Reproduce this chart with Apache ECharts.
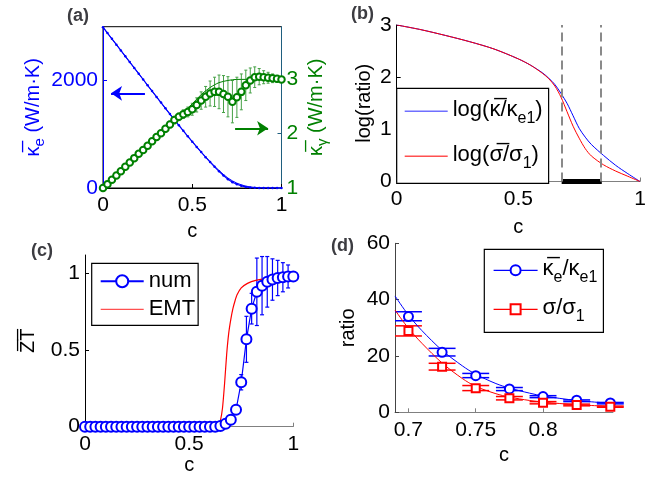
<!doctype html>
<html>
<head>
<meta charset="utf-8">
<title>chart</title>
<script src="https://cdn.jsdelivr.net/npm/echarts@6/dist/echarts.min.js"></script>
<style>html,body{margin:0;padding:0;background:#fff}#main{width:662px;height:485px}</style>
</head>
<body>
<div id="main"></div>
<script>
// (a) electronic and phononic conductivity
var cA = [0,0.025,0.05,0.075,0.1,0.125,0.15,0.175,0.2,0.225,0.25,0.275,0.3,0.325,0.35,0.375,0.4,0.425,0.45,0.475,0.5,0.525,0.55,0.575,0.6,0.625,0.65,0.675,0.7,0.725,0.75,0.775,0.8,0.825,0.85,0.875,0.9,0.925,0.95,0.975,1]
var keNum = [2990,2882,2774,2666,2558,2450,2342,2234,2126,2018,1910,1802,1694,1588,1482,1376,1270,1166,1063,962,862,764,668,574,482,394,310,232,162,108,70,40,20,8,3,1,0,0,0,0,0]
var cLineA = [0,0.1,0.2,0.3,0.4,0.5,0.55,0.6,0.65,0.7,0.75,0.8,0.85,0.9,0.95,1]
var keEmt = [2990,2558,2126,1694,1270,862,668,490,325,185,90,35,10,2,0,0]
var kgEmt = [1,1.31,1.62,1.93,2.24,2.55,2.72,2.85,2.94,2.98,3.0,3.0,3.0,3.0,3.0,3.0]
var kgNum = [1.00,1.07,1.15,1.23,1.31,1.39,1.47,1.55,1.63,1.70,1.78,1.86,1.94,2.01,2.09,2.17,2.25,2.31,2.36,2.40,2.45,2.53,2.61,2.68,2.74,2.77,2.77,2.73,2.68,2.59,2.67,2.77,2.89,2.98,3.04,3.05,3.04,3.03,3.02,3.01,3.00]
var kgErr = [0.01,0.01,0.02,0.02,0.02,0.03,0.03,0.03,0.04,0.04,0.04,0.05,0.05,0.05,0.06,0.06,0.07,0.07,0.08,0.09,0.11,0.13,0.16,0.19,0.23,0.27,0.31,0.34,0.37,0.39,0.37,0.33,0.28,0.23,0.19,0.15,0.12,0.10,0.08,0.06,0.04]
var arrowKe = [[0.235,1761],[0.045,1761]]
var arrowKg = [[0.74,2.10],[0.925,2.10]]

// (b) log ratios
var cB = [0,0.1,0.2,0.3,0.4,0.5,0.55,0.6,0.625,0.65,0.675,0.7,0.725,0.75,0.775,0.8,0.85,0.9,0.95,1]
var logKappa = [3,2.91,2.80,2.68,2.54,2.35,2.23,2.08,1.98,1.86,1.69,1.50,1.26,1.02,0.85,0.71,0.50,0.31,0.15,0]
var logSigma = [3,2.91,2.80,2.68,2.54,2.35,2.23,2.07,1.97,1.83,1.62,1.34,1.06,0.83,0.63,0.49,0.32,0.20,0.10,0]
var cutC = [0.678,0.843]

// (c) ZT
var ztNum = [0,0,0,0,0,0,0,0,0,0,0,0,0,0,0,0,0,0,0,0,0,0,0,0,0,0,0.005,0.02,0.045,0.11,0.29,0.57,0.77,0.88,0.92,0.945,0.96,0.97,0.975,0.98,0.98]
var ztErr = [0,0,0,0,0,0,0,0,0,0,0,0,0,0,0,0,0,0,0,0,0,0,0,0,0,0,0,0,0.01,0.02,0.05,0.15,0.1,0.22,0.19,0.165,0.135,0.115,0.095,0.075,0.02]
var cEmtC = [0,0.1,0.2,0.3,0.4,0.5,0.6,0.63,0.64,0.65,0.66,0.67,0.68,0.69,0.7,0.71,0.72,0.73,0.75,0.78,0.82,0.88,0.94,1]
var ztEmt = [0,0,0,0,0,0,0,0.003,0.012,0.04,0.12,0.28,0.47,0.61,0.70,0.77,0.82,0.86,0.905,0.935,0.955,0.968,0.975,0.98]

// (d) ratios near transition
var cD = [0.7,0.725,0.75,0.775,0.8,0.825,0.85]
var kRatio = [34.0,21.3,13.0,8.3,5.6,4.3,3.3]
var kLo = [32.5,20.0,12.3,7.7,5.2,3.8,3.0]
var kHi = [35.7,22.7,13.8,8.8,5.9,4.4,3.5]
var sRatio = [28.9,16.2,8.5,5.0,3.4,2.6,2.0]
var sLo = [27.1,15.0,7.7,4.4,3.0,2.3,1.8]
var sHi = [30.7,17.4,9.5,5.6,3.8,2.9,2.2]
var cFitD = [0.69,0.7,0.71,0.725,0.74,0.75,0.765,0.775,0.79,0.8,0.825,0.85]
var kFit = [41.3,34.5,29.0,22.0,16.5,13.5,10.2,8.6,6.8,5.8,4.2,3.2]
var sFit = [36.3,29.8,24.5,17.5,12.0,9.2,6.6,5.4,4.2,3.6,2.7,2.1]
var ticksD = [0.7,0.75,0.8]

var FF = 'Liberation Sans, Arial, sans-serif'
var BLUE = '#0000ff', RED = '#ff0000', GREEN = '#008000'

function zip(x, y) { return x.map(function (v, i) { return [v, y[i]] }) }
function errPts(x, y, e) {
	var out = []
	for (var i = 0; i < x.length; i++) if (e[i] > 0) out.push([x[i], y[i] - e[i], y[i] + e[i]])
	return out
}
function errLoHi(x, lo, hi) { return x.map(function (v, i) { return [v, lo[i], hi[i]] }) }
function rich(color, big, small, drop) {
	return {
		m: {fontSize: big, fontFamily: FF, color: color, verticalAlign: 'top', lineHeight: big + 2},
		s: {fontSize: small, fontFamily: FF, color: color, verticalAlign: 'top', lineHeight: small, padding: [drop, 0, 0, 0]}
	}
}
// error bar drawn through the axes; cap is px or data width
function errRender(capPx, capData, lw) {
	return function (params, api) {
		var x = api.value(0)
		var p1 = api.coord([x, api.value(1)]), p2 = api.coord([x, api.value(2)])
		var h = capData ? api.coord([x + capData, api.value(1)])[0] - p1[0] : capPx
		var st = {stroke: api.visual('color'), lineWidth: lw}
		return {type: 'group', children: [
			{type: 'line', shape: {x1: p1[0], y1: p1[1], x2: p2[0], y2: p2[1]}, style: st},
			{type: 'line', shape: {x1: p1[0] - h, y1: p1[1], x2: p1[0] + h, y2: p1[1]}, style: st},
			{type: 'line', shape: {x1: p2[0] - h, y1: p2[1], x2: p2[0] + h, y2: p2[1]}, style: st}
		]}
	}
}
function xAx(grid, min, max, interval, color, name, gap) {
	return {
		type: 'value', gridIndex: grid, min: min, max: max, interval: interval,
		name: name, nameLocation: 'middle', nameGap: gap,
		nameTextStyle: {fontSize: 20, fontFamily: FF, color: '#000'},
		axisLine: {lineStyle: {color: color, width: 1}},
		axisTick: {inside: true, length: 4, lineStyle: {color: color}},
		axisLabel: {fontSize: 21, fontFamily: FF, color: '#000', margin: 7},
		splitLine: {show: false}
	}
}
function yAx(grid, min, max, interval, color, labelColor) {
	return {
		type: 'value', gridIndex: grid, min: min, max: max, interval: interval,
		nameLocation: 'middle',
		axisLine: {show: true, lineStyle: {color: color, width: 1}},
		axisTick: {show: true, inside: true, length: 4, lineStyle: {color: color}},
		axisLabel: {fontSize: 21, fontFamily: FF, color: labelColor, margin: 5, showMaxLabel: false,
			formatter: function (v) { return String(v) }},
		splitLine: {show: false}
	}
}

var xs = [
	xAx(0, 0, 1, 0.5, '#000', 'c', 33),
	xAx(1, 0, 1, 0.5, '#808080', 'c', 36),
	xAx(2, 0, 1, 0.5, '#808080', 'c', 29),
	xAx(3, 0.69, 0.852, null, '#808080', 'c', 33)
]
xs[3].axisLabel.customValues = ticksD
xs[3].axisTick.customValues = ticksD

var yL = yAx(0, 0, 3000, 2000, BLUE, BLUE)
yL.name = '{m|κ\u0305}{s|e}{m| (W/m·K)}'
yL.nameGap = 56
yL.nameTextStyle = {rich: rich(BLUE, 20, 15, 9)}
var yR = yAx(0, 1, 3.97, 1, '#1f5f7f', GREEN)
yR.position = 'right'
yR.name = '{m|κ\u0305}{s|γ}{m| (W/m·K)}'
yR.nameGap = 25
yR.nameTextStyle = {rich: rich(GREEN, 20, 15, 9)}
var yB = yAx(1, 0, 3, 1, '#000', '#000')
yB.axisLabel.showMaxLabel = true
yB.name = 'log(ratio)'
yB.nameGap = 22
yB.nameTextStyle = {fontSize: 20, fontFamily: FF, color: '#000'}
var yC = yAx(2, 0, 1.12, 0.5, '#000', '#000')
yC.name = 'Z\u0305T\u0305'
yC.nameGap = 47
yC.nameTextStyle = {fontSize: 20, fontFamily: FF, color: '#000'}
var yD = yAx(3, 0, 60, 20, '#444', '#000')
yD.axisLabel.showMaxLabel = true
yD.name = 'ratio'
yD.nameGap = 37
yD.nameTextStyle = {fontSize: 20, fontFamily: FF, color: '#000'}

var lineIconPath = 'path://M0,0L0.01,0L0.01,0.01Z M0,7L43,7L43,8.3L0,8.3Z M0,15L0.01,15L0.01,14.99Z'

var option = {
	animation: false,
	backgroundColor: '#fff',
	title: [
		{text: '(a)', left: 67, top: 7, padding: 0, textStyle: {fontSize: 18, fontWeight: 'bold', fontFamily: FF}},
		{text: '(b)', left: 351, top: 5, padding: 0, textStyle: {fontSize: 18, fontWeight: 'bold', fontFamily: FF}},
		{text: '(c)', left: 31, top: 242, padding: 0, textStyle: {fontSize: 18, fontWeight: 'bold', fontFamily: FF}},
		{text: '(d)', left: 331, top: 237, padding: 0, textStyle: {fontSize: 18, fontWeight: 'bold', fontFamily: FF}}
	],
	grid: [
		{left: 103, top: 26.7, width: 178.5, height: 161.3, show: true, borderColor: '#000', borderWidth: 1},
		{left: 396.7, top: 25, width: 243.3, height: 156.5},
		{left: 85, top: 255, width: 208.3, height: 171.7},
		{left: 395, top: 243.3, width: 218, height: 169}
	],
	xAxis: xs,
	yAxis: [yL, yR, yB, yC, yD],
	legend: [
		{
			orient: 'vertical', left: 396.7, top: 88.3, padding: [11, 6, 12, 8], itemGap: 18,
			itemWidth: 43, itemHeight: 1.5, icon: 'rect', selectedMode: false,
			borderColor: '#000', borderWidth: 1.2, backgroundColor: '#fff',
			data: ['kb', 'sb'],
			formatter: function (n) { return n === 'kb' ? '{m|log(κ\u0305/κ}{s|e1}{m|)}' : '{m|log(σ\u0305/σ}{s|1}{m|)}' },
			textStyle: {rich: rich('#000', 22, 16, 11)}
		},
		{
			orient: 'vertical', left: 91.7, top: 263.3, padding: [7, 3, 5, 8], itemGap: 6,
			itemWidth: 43, itemHeight: 15, selectedMode: false,
			borderColor: '#000', borderWidth: 1.2, backgroundColor: '#fff',
			data: [{name: 'num'}, {name: 'EMT', icon: lineIconPath}],
			textStyle: {fontSize: 22, fontFamily: FF, color: '#000'}
		},
		{
			orient: 'vertical', left: 484.3, top: 249.3, padding: [9, 6, 8, 8.7], itemGap: 12,
			itemWidth: 44, itemHeight: 12.5, selectedMode: false,
			borderColor: '#000', borderWidth: 1.2, backgroundColor: '#fff',
			lineStyle: {width: 1.2},
			data: ['kd', 'sd'],
			formatter: function (n) { return n === 'kd' ? '{m|κ\u0305}{s|e}{m|/κ}{s|e1}' : '{m|σ/σ}{s|1}' },
			textStyle: {rich: rich('#000', 22, 16, 11)}
		}
	],
	series: [
		// (a)
		{type: 'line', name: 'keEmt', xAxisIndex: 0, yAxisIndex: 0, data: zip(cLineA, keEmt), smooth: 0.3,
			symbol: 'none', lineStyle: {color: BLUE, width: 1}, itemStyle: {color: BLUE}},
		{type: 'line', name: 'keNum', xAxisIndex: 0, yAxisIndex: 0, data: zip(cA, keNum),
			symbol: 'circle', symbolSize: 2.5, lineStyle: {color: BLUE, width: 1.2}, itemStyle: {color: BLUE},
			markLine: {silent: true, symbol: ['none', 'arrow'], symbolSize: 11, label: {show: false},
				lineStyle: {color: BLUE, width: 2, type: 'solid'},
				data: [[{coord: arrowKe[0]}, {coord: arrowKe[1]}]]}},
		{type: 'custom', name: 'kgErr', xAxisIndex: 0, yAxisIndex: 1, data: errPts(cA, kgNum, kgErr),
			renderItem: errRender(1.5, 0, 1), itemStyle: {color: '#45a045'}, encode: {x: 0, y: [1, 2]}},
		{type: 'line', name: 'kgEmt', xAxisIndex: 0, yAxisIndex: 1, data: zip(cLineA, kgEmt), smooth: 0.3,
			symbol: 'none', lineStyle: {color: GREEN, width: 1}, itemStyle: {color: GREEN}},
		{type: 'line', name: 'kgNum', xAxisIndex: 0, yAxisIndex: 1, data: zip(cA, kgNum),
			symbol: 'emptyCircle', symbolSize: 6.5, lineStyle: {width: 0}, itemStyle: {color: GREEN, borderWidth: 0.8},
			markLine: {silent: true, symbol: ['none', 'arrow'], symbolSize: 11, label: {show: false},
				lineStyle: {color: GREEN, width: 2, type: 'solid'},
				data: [[{coord: arrowKg[0]}, {coord: arrowKg[1]}]]}},
		// (b)
		{type: 'line', name: 'kb', xAxisIndex: 1, yAxisIndex: 2, data: zip(cB, logKappa), smooth: 0.3,
			symbol: 'none', lineStyle: {color: BLUE, width: 1}, itemStyle: {color: '#6f6fff'},
			markLine: {silent: true, symbol: 'none', label: {show: false},
				lineStyle: {color: '#8a8a8a', width: 2, type: [9, 5]},
				data: [{xAxis: cutC[0]}, {xAxis: cutC[1]}]}},
		{type: 'line', name: 'sb', xAxisIndex: 1, yAxisIndex: 2, data: zip(cB, logSigma), smooth: 0.3,
			symbol: 'none', lineStyle: {color: RED, width: 1}, itemStyle: {color: '#ff5050'}},
		{type: 'line', name: 'cut', xAxisIndex: 1, yAxisIndex: 2, data: [[cutC[0], 0], [cutC[1], 0]],
			symbol: 'none', clip: false, lineStyle: {color: '#000', width: 5}},
		// (c)
		{type: 'custom', name: 'ztErr', xAxisIndex: 2, yAxisIndex: 3, data: errPts(cA, ztNum, ztErr),
			renderItem: errRender(2, 0, 1.2), itemStyle: {color: BLUE}, encode: {x: 0, y: [1, 2]}},
		{type: 'line', name: 'num', xAxisIndex: 2, yAxisIndex: 3, data: zip(cA, ztNum),
			symbol: 'emptyCircle', symbolSize: 10, lineStyle: {color: BLUE, width: 1.2}, itemStyle: {color: BLUE, borderWidth: 1}},
		{type: 'line', name: 'EMT', xAxisIndex: 2, yAxisIndex: 3, data: zip(cEmtC, ztEmt), smooth: 0.2,
			symbol: 'none', lineStyle: {color: RED, width: 1.2}, itemStyle: {color: '#ff5050'}},
		// (d)
		{type: 'custom', name: 'kdErr', xAxisIndex: 3, yAxisIndex: 4, data: errLoHi(cD, kLo, kHi),
			renderItem: errRender(0, 0.01, 1.5), itemStyle: {color: BLUE}, encode: {x: 0, y: [1, 2]}},
		{type: 'custom', name: 'sdErr', xAxisIndex: 3, yAxisIndex: 4, data: errLoHi(cD, sLo, sHi),
			renderItem: errRender(0, 0.01, 1.5), itemStyle: {color: RED}, encode: {x: 0, y: [1, 2]}},
		{type: 'line', name: 'kdFit', xAxisIndex: 3, yAxisIndex: 4, data: zip(cFitD, kFit), smooth: 0.3,
			symbol: 'none', lineStyle: {color: BLUE, width: 1}},
		{type: 'line', name: 'sdFit', xAxisIndex: 3, yAxisIndex: 4, data: zip(cFitD, sFit), smooth: 0.3,
			symbol: 'none', lineStyle: {color: RED, width: 1}},
		{type: 'line', name: 'kd', xAxisIndex: 3, yAxisIndex: 4, data: zip(cD, kRatio),
			symbol: 'emptyCircle', symbolSize: 9, lineStyle: {color: BLUE, width: 0}, itemStyle: {color: BLUE, borderWidth: 1}},
		{type: 'line', name: 'sd', xAxisIndex: 3, yAxisIndex: 4, data: zip(cD, sRatio),
			symbol: 'emptyRect', symbolSize: 8, lineStyle: {color: RED, width: 0}, itemStyle: {color: RED, borderWidth: 1}}
	]
}
var myChart = echarts.init(document.getElementById('main'))
myChart.setOption(option)
</script>
</body>
</html>
